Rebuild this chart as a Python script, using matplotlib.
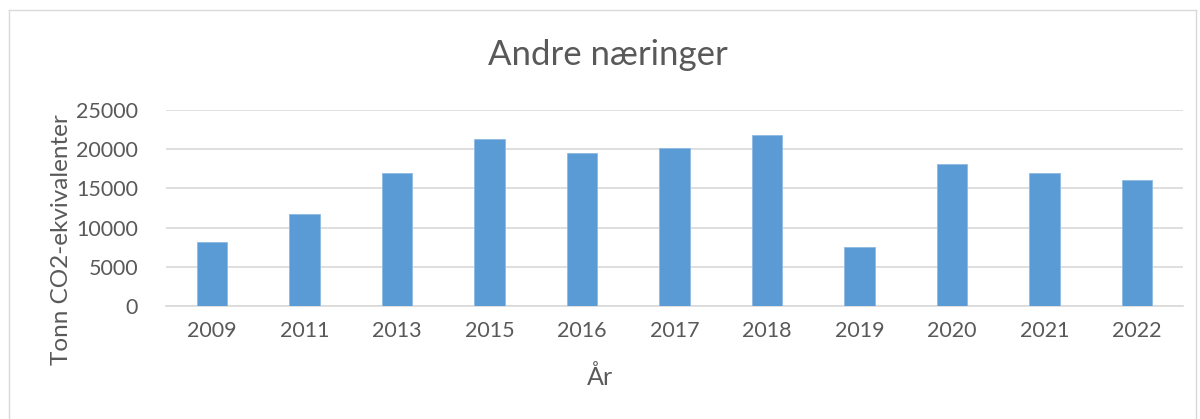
import matplotlib
matplotlib.use("Agg")
import matplotlib.pyplot as plt
from matplotlib.lines import Line2D

years = ["2009", "2011", "2013", "2015", "2016", "2017", "2018", "2019", "2020", "2021", "2022"]
values = [8100, 11700, 17000, 21300, 19500, 20100, 21800, 7500, 18100, 17000, 16100]
yticks = [0, 5000, 10000, 15000, 20000, 25000]

plt.rcParams['font.family'] = ['Lato', 'DejaVu Sans']
txt = '#595959'

fig = plt.figure(figsize=(12, 4.19), dpi=100)
ax = fig.add_axes([166/1200, 1-306/419, (1183-166)/1200, (306-110)/419])

x = list(range(len(years)))
ax.bar(x, values, width=0.33, color='#5B9BD5', edgecolor='#8FBAE3', linewidth=0.6, zorder=3)
ax.set_xlim(-0.5, len(years)-0.5)
ax.set_ylim(0, 25000)
ax.set_yticks(yticks)
ax.set_yticklabels([str(v) for v in yticks])
ax.set_xticks(x)
ax.set_xticklabels(years)
ax.grid(axis='y', color='#D9D9D9', linewidth=1.2, zorder=0)
for s in ['top', 'right', 'left']:
    ax.spines[s].set_visible(False)
ax.spines['bottom'].set_color('#D9D9D9')
ax.spines['bottom'].set_linewidth(1.2)
ax.tick_params(axis='both', length=0, labelsize=15.5, colors=txt)
ax.tick_params(axis='x', pad=11)
ax.tick_params(axis='y', pad=20)

fig.text(0.5065, 1-55/419, "Andre næringer", ha='center', va='center', fontsize=25, color=txt)
fig.text(0.5, 1-377/419, "År", ha='center', va='center', fontsize=18, color=txt)
fig.text(62/1200, 1-240/419, "Tonn CO2-ekvivalenter", ha='center', va='center', rotation=90, fontsize=17.5, color=txt)

# outer chart border
fig.add_artist(Line2D([9/1200, 9/1200], [0, 1-10/419], transform=fig.transFigure, color='#D9D9D9', lw=1))
fig.add_artist(Line2D([9/1200, 1196/1200], [1-10/419, 1-10/419], transform=fig.transFigure, color='#D9D9D9', lw=1))
fig.add_artist(Line2D([1196/1200, 1196/1200], [0, 1-10/419], transform=fig.transFigure, color='#D9D9D9', lw=1))

fig.savefig("out.png", dpi=100)
